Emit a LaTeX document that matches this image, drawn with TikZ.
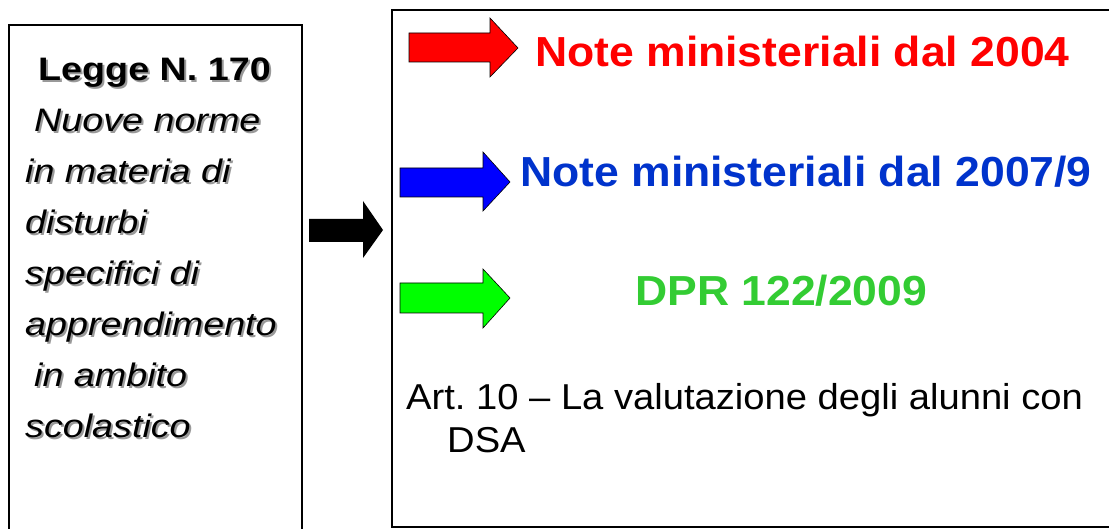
\documentclass[tikz,border=0pt]{standalone}
\usepackage{fontspec}
\setmainfont{Liberation Sans}
\newfontfamily\leftfont{Liberation Sans}[FakeStretch=1.16]
\newfontfamily\rightfont{Liberation Sans}[FakeStretch=1.06]
\usetikzlibrary{positioning}
\frenchspacing
\definecolor{notered}{RGB}{255,0,0}
\definecolor{noteblue}{RGB}{0,51,204}
\definecolor{dprgreen}{RGB}{51,204,51}
\definecolor{arrowblue}{RGB}{0,0,255}
\definecolor{arrowgreen}{RGB}{0,255,0}
\newcommand{\lawlines}{\hspace*{13pt}\textbf{Legge N. 170}\\
  \textit{\hspace*{9pt}Nuove norme}\\
  \textit{in materia di}\\
  \textit{disturbi}\\
  \textit{specifici di}\\
  \textit{apprendimento}\\
  \textit{\hspace*{9pt}in ambito}\\
  \textit{scolastico}}

\begin{document}
\begin{tikzpicture}[x=1pt,y=-1pt]
\tikzset{
  frame/.style={draw=black,line width=2pt},
  blockarrow/.style={draw=black,line width=0.6pt,line join=miter},
  lawtext/.style={inner sep=0pt,anchor=north west,align=left,font=\leftfont\fontsize{32.5}{50.9}\selectfont},
  title/.style={inner sep=0pt,anchor=base west,font=\rightfont\bfseries\fontsize{42}{50}\selectfont},
  plain/.style={inner sep=0pt,anchor=north west,align=left,font=\rightfont\fontsize{36}{43}\selectfont}
}
\useasboundingbox (0,0) rectangle (1109,529);
\fill[white] (0,0) rectangle (1109,529);
% frames
\draw[frame] (9,25) rectangle (302,545);
\draw[frame] (392,10) rectangle (1125,527);
% left text with shadow
\node[lawtext,text=black!40] (lawshadow) at (27,60) {\lawlines};
\node[lawtext] (law) at (25,58) {\lawlines};
% black arrow between the frames
\fill[black] (309,219) -- (363,219) -- (363,201) -- (383,230) -- (363,258) -- (363,242) -- (309,242) -- cycle;
% coloured arrows
\draw[blockarrow,fill=notered] (409,33) -- (490,33) -- (490,18) -- (518,48) -- (490,77) -- (490,62) -- (409,62) -- cycle;
\draw[blockarrow,fill=arrowblue] (400,168) -- (483,168) -- (483,152) -- (510,182) -- (483,211) -- (483,197) -- (400,197) -- cycle;
\draw[blockarrow,fill=arrowgreen] (400,283) -- (483,283) -- (483,269) -- (510,298) -- (483,328) -- (483,313) -- (400,313) -- cycle;
% texts
\node[title,text=notered] (note04) at (535,67) {Note ministeriali dal 2004};
\node[title,text=noteblue] (note07) at (520,187) {Note ministeriali dal 2007/9};
\node[title,text=dprgreen] (dpr) at (635,306) {DPR 122/2009};
\node[plain] (art) at (406,383) {Art. 10 – La valutazione degli alunni con\\\hspace*{41pt}DSA};
\end{tikzpicture}
\end{document}
